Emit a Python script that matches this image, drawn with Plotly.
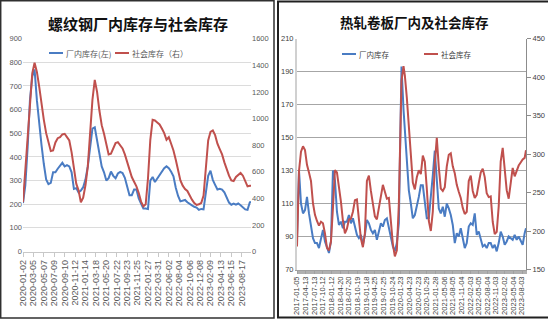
import plotly.graph_objects as go

# ---------------- Left chart: 螺纹钢 (weekly index, every two weeks) ----------------
rebar_week = list(range(0, 197, 2)) + [197]
rebar_plant = [205, 280, 440, 640, 740, 770, 640, 530, 450, 370,
               305, 285, 290, 335, 335, 350, 362, 375, 360, 365,
               360, 335, 265, 268, 250, 258, 272, 305, 360, 440,
               520, 525, 470, 405, 360, 335, 300, 310, 338, 320,
               310, 330, 337, 332, 312, 275, 238, 238, 262, 262,
               225, 203, 182, 182, 180, 300, 315, 294, 308, 325,
               335, 352, 360, 352, 337, 318, 270, 235, 212, 215,
               218, 208, 200, 195, 189, 186, 176, 180, 178, 250,
               320, 342, 303, 282, 262, 265, 262, 250, 228, 207,
               198, 203, 198, 203, 196, 185, 178, 176, 208, 210]
rebar_social = [370, 630, 900, 1155, 1340, 1420, 1350, 1240, 1100, 990,
                890, 810, 755, 760, 820, 852, 860, 880, 885, 860,
                835, 745, 610, 510, 460, 370, 405, 500, 640, 900,
                1140, 1290, 1200, 1060, 950, 885, 800, 730, 735, 775,
                815, 822, 798, 775, 730, 670, 610, 560, 525, 490,
                440, 375, 340, 355, 550, 840, 990, 985, 970, 955,
                925, 890, 840, 860, 810, 760, 690, 605, 535, 495,
                470, 455, 420, 390, 365, 350, 355, 365, 420, 640,
                835, 900, 910, 875, 810, 770, 730, 670, 615, 570,
                535, 530, 560, 575, 590, 570, 525, 490, 495, 495]
rebar_tick_pos = list(range(0, 190, 9))
rebar_tick_text = ["2020-01-02", "2020-03-05", "2020-05-07", "2020-07-09", "2020-09-10",
                   "2020-11-12", "2021-01-14", "2021-03-18", "2021-05-20", "2021-07-22",
                   "2021-09-23", "2021-11-25", "2022-01-27", "2022-03-31", "2022-06-02",
                   "2022-08-04", "2022-10-06", "2022-12-08", "2023-02-09", "2023-04-13",
                   "2023-06-15", "2023-08-17"]

# ---------------- Right chart: 热轧卷板 (category index) ----------------
hrc_idx = list(range(0, 154, 3)) + [155, 157, 160, 162] + list(range(165, 343, 3)) + [344]
hrc_plant = [89, 130, 110, 104, 106, 114, 104, 97, 89, 86,
             86, 83, 88, 94, 87, 83, 80, 87, 130, 124,
             105, 97, 99, 95, 99, 99, 103, 98, 101, 96,
             91, 89, 91, 85, 91, 100, 98, 94, 92, 94,
             88, 93, 98, 96, 100, 101, 95, 89, 84, 81,
             86, 98,
             140, 193, 167, 155,
             137, 118, 110, 101, 103, 108, 114, 121, 121, 111,
             101, 101, 112, 127, 142, 123, 107, 104, 108, 102,
             110, 107, 103, 97, 86, 92, 90, 95, 89, 83,
             86, 96, 98, 97, 104, 91, 93, 89, 84, 85,
             83, 86, 86, 83, 85, 81, 86, 93, 90, 85,
             87, 90, 89, 88, 91, 88, 90, 87, 85, 92,
             95]
hrc_social = [180, 278, 303, 310, 305, 286, 276, 265, 236, 221,
              213, 207, 212, 210, 197, 178, 175, 186, 230, 279,
              276, 258, 238, 213, 197, 203, 215, 216, 225, 240,
              241, 215, 190, 179, 197, 265, 272, 252, 233, 219,
              215, 230, 245, 260, 251, 242, 243, 215, 183, 167,
              175, 235,
              320, 395, 414, 402,
              373, 333, 300, 263, 254, 270, 279, 274, 298, 290,
              255, 213, 200, 225, 288, 321, 283, 255, 252, 257,
              284, 299, 301, 284, 275, 260, 251, 243, 230, 222,
              225, 265, 272, 252, 243, 247, 262, 276, 281, 270,
              249, 244, 245, 212, 196, 199, 232, 290, 308, 284,
              253, 242, 262, 282, 271, 279, 285, 289, 293, 295,
              305]
hrc_tick_pos = list(range(0, 339, 13))
hrc_tick_text = ["2017-01-05", "2017-04-13", "2017-07-13", "2017-10-12", "2018-01-12",
                 "2018-04-20", "2018-07-20", "2018-10-19", "2019-01-18", "2019-04-25",
                 "2019-07-25", "2019-10-24", "2020-01-23", "2020-04-23", "2020-07-23",
                 "2020-10-29", "2021-01-28", "2021-05-06", "2021-08-05", "2021-11-04",
                 "2022-02-03", "2022-05-05", "2022-08-04", "2022-11-03", "2023-02-02",
                 "2023-05-04", "2023-08-03"]

BLUE = "#4A7CC3"
RED = "#C0504D"
TICK = "#595959"
NUM_FONT = "Liberation Sans, Arial, sans-serif"
CJK = "Noto Sans CJK SC"

W, H = 548, 321
def px(x):
    return x / W
def py(y):
    return 1 - y / H

fig = go.Figure()
fig.add_trace(go.Scatter(x=rebar_week, y=rebar_plant, xaxis="x", yaxis="y",
                         mode="lines", line=dict(color=BLUE, width=2), name="厂内库存(左)"))
fig.add_trace(go.Scatter(x=rebar_week, y=rebar_social, xaxis="x", yaxis="y2",
                         mode="lines", line=dict(color=RED, width=2), name="社会库存（右）"))
fig.add_trace(go.Scatter(x=hrc_idx, y=hrc_plant, xaxis="x2", yaxis="y3",
                         mode="lines", line=dict(color=BLUE, width=2), name="厂内库存"))
fig.add_trace(go.Scatter(x=hrc_idx, y=hrc_social, xaxis="x2", yaxis="y4",
                         mode="lines", line=dict(color=RED, width=2), name="社会库存"))

fig.update_layout(
    width=W, height=H, margin=dict(l=0, r=0, t=0, b=0), autosize=False,
    template="none", showlegend=False,
    paper_bgcolor="white", plot_bgcolor="rgba(0,0,0,0)",
    xaxis=dict(domain=[px(23), px(251)], range=[0, 197], anchor="y",
               tickmode="array", tickvals=rebar_tick_pos, ticktext=rebar_tick_text,
               tickangle=-90, tickfont=dict(family=NUM_FONT, size=9, color=TICK),
               showgrid=False, zeroline=False, showline=True, linecolor="#c8c8c8", linewidth=1,
               ticks="outside", ticklen=4, tickcolor="#c8c8c8", automargin=False),
    yaxis=dict(domain=[py(251.5), py(38.7)], range=[0, 900], tick0=0, dtick=100, anchor="x",
               tickfont=dict(family=NUM_FONT, size=7.5, color=TICK),
               showgrid=True, gridcolor="#dcdcdc", gridwidth=1, zeroline=False,
               showline=False, ticks="", automargin=False),
    yaxis2=dict(overlaying="y", side="right", anchor="x", range=[0, 1600], tick0=0, dtick=200,
                tickfont=dict(family=NUM_FONT, size=7.5, color=TICK),
                showgrid=False, zeroline=False, showline=False, ticks="", automargin=False),
    xaxis2=dict(domain=[px(297), px(526)], range=[0, 344], anchor="y3",
                tickmode="array", tickvals=hrc_tick_pos, ticktext=hrc_tick_text,
                tickangle=-90, tickfont=dict(family=NUM_FONT, size=7.5, color="#404040"),
                showgrid=False, zeroline=False, showline=True, linecolor="#a0a0a0", linewidth=1,
                ticks="outside", ticklen=3, tickcolor="#a0a0a0",
                minor=dict(dtick=1, ticklen=3, tickcolor="#b0b0b0", ticks="outside"),
                automargin=False),
    yaxis3=dict(domain=[py(269.5), py(38.5)], range=[70, 210], tick0=70, dtick=20, anchor="x2",
                tickfont=dict(family=NUM_FONT, size=7.5, color="#404040"),
                showgrid=True, gridcolor="#a6a6a6", gridwidth=1.3, zeroline=False,
                showline=True, linecolor="#d0d0d0", linewidth=2, ticks="", automargin=False),
    yaxis4=dict(overlaying="y3", side="right", anchor="x2", range=[150, 450], tick0=150, dtick=50,
                tickfont=dict(family=NUM_FONT, size=7.5, color="#404040"),
                showgrid=False, zeroline=False, showline=True, linecolor="#8c8c8c", linewidth=1,
                ticks="outside", ticklen=4, tickcolor="#8c8c8c", automargin=False),
)

shapes = [
    # panel borders
    dict(type="rect", xref="paper", yref="paper", x0=px(0.7), x1=px(274), y0=py(318), y1=py(0.7),
         line=dict(color="#303030", width=1.5)),
    dict(type="rect", xref="paper", yref="paper", x0=px(278), x1=px(549), y0=py(317.5), y1=py(1.5),
         line=dict(color="#202020", width=2)),
    # legend samples
    dict(type="line", xref="paper", yref="paper", x0=px(49), x1=px(63), y0=py(53), y1=py(53),
         line=dict(color=BLUE, width=2)),
    dict(type="line", xref="paper", yref="paper", x0=px(115), x1=px(129), y0=py(53), y1=py(53),
         line=dict(color=RED, width=2)),
    dict(type="line", xref="paper", yref="paper", x0=px(342), x1=px(356), y0=py(54), y1=py(54),
         line=dict(color=BLUE, width=2)),
    dict(type="line", xref="paper", yref="paper", x0=px(424), x1=px(438), y0=py(54), y1=py(54),
         line=dict(color=RED, width=2)),
]
fig.update_layout(shapes=shapes)

ann = [
    dict(text="<b>螺纹钢厂内库存与社会库存</b>", x=px(138), y=py(23), xref="paper", yref="paper",
         showarrow=False, xanchor="center", yanchor="middle",
         font=dict(family=CJK, size=15, color="#111111")),
    dict(text="<b>热轧卷板厂内及社会库存</b>", x=px(414), y=py(22), xref="paper", yref="paper",
         showarrow=False, xanchor="center", yanchor="middle",
         font=dict(family=CJK, size=13.5, color="#111111")),
    dict(text="厂内库存(左)", x=px(64), y=py(53), xref="paper", yref="paper",
         showarrow=False, xanchor="left", yanchor="middle",
         font=dict(family=CJK, size=8, color=TICK)),
    dict(text="社会库存（右）", x=px(130), y=py(53), xref="paper", yref="paper",
         showarrow=False, xanchor="left", yanchor="middle",
         font=dict(family=CJK, size=8, color=TICK)),
    dict(text="厂内库存", x=px(357), y=py(54), xref="paper", yref="paper",
         showarrow=False, xanchor="left", yanchor="middle",
         font=dict(family=CJK, size=7.5, color="#404040")),
    dict(text="社会库存", x=px(439), y=py(54), xref="paper", yref="paper",
         showarrow=False, xanchor="left", yanchor="middle",
         font=dict(family=CJK, size=7.5, color="#404040")),
]
fig.update_layout(annotations=ann)

fig.write_html("out.html")
